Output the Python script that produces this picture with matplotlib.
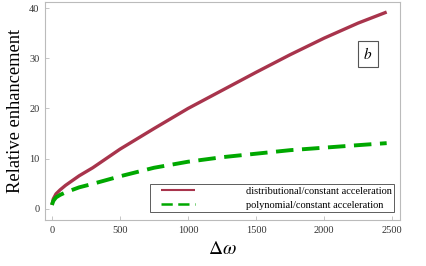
import matplotlib
matplotlib.use("Agg")
import matplotlib.pyplot as plt
import numpy as np
from matplotlib.legend_handler import HandlerLine2D

plt.rcParams["font.family"] = ["Liberation Serif", "DejaVu Serif"]
plt.rcParams["mathtext.fontset"] = "stix"

# data
d_omega = [0, 10, 30, 60, 100, 200, 300, 500, 750, 1000, 1250, 1500, 1750, 2000, 2250, 2460]
distributional = [0.8, 2.0, 3.0, 3.8, 4.7, 6.6, 8.2, 11.9, 16.0, 20.0, 23.6, 27.2, 30.7, 34.0, 37.0, 39.2]
polynomial = [0.8, 1.6, 2.3, 2.8, 3.3, 4.3, 5.0, 6.5, 8.2, 9.4, 10.3, 11.0, 11.7, 12.2, 12.7, 13.1]
x_ticks = [0, 500, 1000, 1500, 2000, 2500]
y_ticks = [0, 10, 20, 30, 40]

C_RED = "#A8344C"
C_GREEN = "#00A800"
C_FRAME = "#BBBBBB"


class IndentedLine(HandlerLine2D):
    # legend sample inset from the box edge, like the reference
    def create_artists(self, legend, orig_handle, xdescent, ydescent,
                       width, height, fontsize, trans):
        arts = super().create_artists(legend, orig_handle, xdescent, ydescent,
                                      width, height, fontsize, trans)
        for a in arts:
            xd = np.asarray(a.get_xdata())
            if len(xd) >= 2:
                a.set_xdata(np.linspace(xd[0] + 6.0, xd[-1] - 2.5, len(xd)))
        return arts


fig = plt.figure(figsize=(4.26, 2.66), dpi=100)
ax = fig.add_axes([45 / 426, 46 / 266, 355 / 426, 218 / 266])

l1, = ax.plot(d_omega, distributional, color=C_RED, lw=2.4, solid_capstyle="butt",
              label="distributional/constant acceleration")
l2, = ax.plot(d_omega, polynomial, color=C_GREEN, lw=2.8, dashes=(4.5, 2.2),
              label="polynomial/constant acceleration")

ax.set_xlim(-51, 2558)
ax.set_ylim(-2.2, 41.2)
ax.set_xticks(x_ticks)
ax.set_yticks(y_ticks)

for s in ax.spines.values():
    s.set_color(C_FRAME)
    s.set_linewidth(0.8)
ax.tick_params(direction="in", length=3, width=0.6, color=C_FRAME,
               labelsize=7.5, labelcolor="#333333", pad=4)

ax.set_ylabel("Relative enhancement", fontsize=13.3, labelpad=4)
ax.set_xlabel(r"$\Delta\omega$", fontsize=14, labelpad=5)

leg = ax.legend(loc="lower right", bbox_to_anchor=(0.9845, 0.035), fontsize=7.5,
                frameon=True, fancybox=False, handlelength=4.4,
                handletextpad=4.6, borderpad=0.25, labelspacing=0.42,
                borderaxespad=0.0,
                handler_map={l1: IndentedLine(), l2: IndentedLine()})
leg.get_frame().set_edgecolor("#333333")
leg.get_frame().set_linewidth(0.7)
leg.get_lines()[0].set_linewidth(1.5)
leg.get_lines()[1].set_linewidth(1.8)

ax.text(0.91, 0.761, "$b$", transform=ax.transAxes, fontsize=11,
        ha="center", va="center",
        bbox=dict(boxstyle="square,pad=0.35", fc="white", ec="#555555", lw=0.8))

fig.savefig("out.png", dpi=100)
